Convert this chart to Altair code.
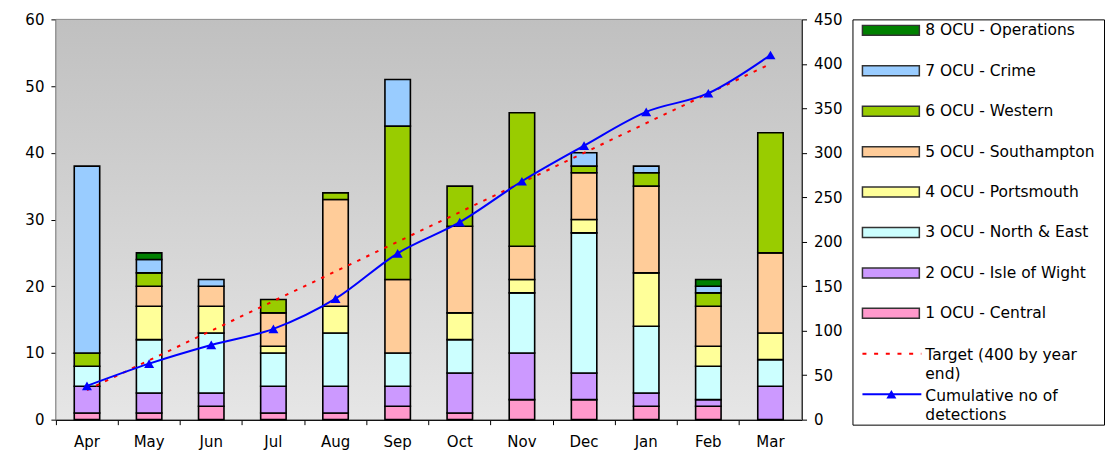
import altair as alt
import pandas as pd

MONTHS = ["Apr", "May", "Jun", "Jul", "Aug", "Sep", "Oct", "Nov", "Dec", "Jan", "Feb", "Mar"]
OCU_NAMES = ["1 OCU - Central", "2 OCU - Isle of Wight", "3 OCU - North & East",
             "4 OCU - Portsmouth", "5 OCU - Southampton", "6 OCU - Western",
             "7 OCU - Crime", "8 OCU - Operations"]
OCU_COLORS = ["#FF99CC", "#CC99FF", "#CCFFFF", "#FFFF99", "#FFCC99", "#99CC00", "#99CCFF", "#008000"]

CENTRAL = [1, 1, 2, 1, 1, 2, 1, 3, 3, 2, 2, 0]
ISLE_OF_WIGHT = [4, 3, 2, 4, 4, 3, 6, 7, 4, 2, 1, 5]
NORTH_EAST = [3, 8, 9, 5, 8, 5, 5, 9, 21, 10, 5, 4]
PORTSMOUTH = [0, 5, 4, 1, 4, 0, 4, 2, 2, 8, 3, 4]
SOUTHAMPTON = [0, 3, 3, 5, 16, 11, 13, 5, 7, 13, 6, 12]
WESTERN = [2, 2, 0, 2, 1, 23, 6, 20, 1, 2, 2, 18]
CRIME = [28, 2, 1, 0, 0, 7, 0, 0, 2, 1, 1, 0]
OPERATIONS = [0, 1, 0, 0, 0, 0, 0, 0, 0, 0, 1, 0]

TARGET = [33.3, 66.7, 100, 133.3, 166.7, 200, 233.3, 266.7, 300, 333.3, 366.7, 400]
CUMULATIVE = [38, 63, 84, 102, 136, 187, 222, 268, 308, 346, 367, 410]

LEFT_TICKS = [0, 10, 20, 30, 40, 50, 60]
RIGHT_TICKS = [0, 50, 100, 150, 200, 250, 300, 350, 400, 450]

TARGET_LABEL = "Target (400 by year\nend)"
CUM_LABEL = "Cumulative no of\ndetections"

FONT = "DejaVu Sans"
W, H = 747, 401

series = [CENTRAL, ISLE_OF_WIGHT, NORTH_EAST, PORTSMOUTH, SOUTHAMPTON, WESTERN, CRIME, OPERATIONS]
rows = []
for k, (name, vals) in enumerate(zip(OCU_NAMES, series)):
    for m, v in zip(MONTHS, vals):
        rows.append({"month": m, "ocu": name, "idx": k, "value": v})
bar_df = pd.DataFrame(rows)
line_df = pd.DataFrame({"month": MONTHS, "target": TARGET, "cumulative": CUMULATIVE})

x_enc = alt.X("month:N", sort=MONTHS,
              scale=alt.Scale(paddingInner=0, paddingOuter=0),
              axis=alt.Axis(title=None, bandPosition=0, labelAngle=0,
                            labelPadding=10, tickSize=5))

bg = alt.Chart(pd.DataFrame({"a": [0]})).mark_rect(
    fill=alt.LinearGradient(gradient="linear",
                            stops=[alt.GradientStop(color="#c0c0c0", offset=0),
                                   alt.GradientStop(color="#e6e6e6", offset=1)],
                            x1=0, x2=0, y1=0, y2=1),
    stroke="#8a8a8a", strokeWidth=1
).encode(x=alt.value(0), x2=alt.value(W), y=alt.value(0), y2=alt.value(H))

bars = alt.Chart(bar_df).transform_filter("datum.value > 0").mark_bar(
    size=25.5, stroke="black", strokeWidth=1.6
).encode(
    x=x_enc,
    y=alt.Y("value:Q", stack="zero", scale=alt.Scale(domain=[0, 60], nice=False),
            axis=alt.Axis(orient="left", values=LEFT_TICKS, title=None, grid=False)),
    color=alt.Color("ocu:N", scale=alt.Scale(domain=OCU_NAMES, range=OCU_COLORS), legend=None),
    order=alt.Order("idx:Q", sort="ascending"),
)

right_axis = alt.Axis(orient="right", values=RIGHT_TICKS, title=None, grid=False)
target = alt.Chart(line_df).mark_line(color="red", strokeDash=[3.5, 6.5], strokeWidth=2).encode(
    x=x_enc,
    y=alt.Y("target:Q", scale=alt.Scale(domain=[0, 450], nice=False), axis=right_axis),
)
cum = alt.Chart(line_df).mark_line(
    color="blue", strokeWidth=2, interpolate="monotone",
    point=alt.OverlayMarkDef(shape="triangle-up", size=100, filled=True, color="blue")
).encode(
    x=x_enc,
    y=alt.Y("cumulative:Q", scale=alt.Scale(domain=[0, 450], nice=False), axis=right_axis),
)

main = alt.layer(bg, bars, alt.layer(target, cum)).resolve_scale(y="independent").properties(
    width=W, height=H)

# legend panel
LEG_LABELS = list(reversed(OCU_NAMES)) + [TARGET_LABEL, CUM_LABEL]
leg_df = pd.DataFrame({"label": LEG_LABELS, "row": list(range(len(LEG_LABELS)))})
ly = alt.Y("row:Q", scale=alt.Scale(domain=[0, 9], range=[11, 375.5], nice=False, zero=False), axis=None)

sw = alt.Chart(leg_df).transform_filter("datum.row < 8").mark_rect(
    stroke="#333333", strokeWidth=1.5, yOffset=-5, y2Offset=5
).encode(
    x=alt.value(10), x2=alt.value(67), y=ly, y2=alt.Y2("row:Q"),
    color=alt.Color("label:N", scale=alt.Scale(domain=OCU_NAMES, range=OCU_COLORS), legend=None),
)
t1 = alt.Chart(leg_df).transform_filter("datum.row < 8").mark_text(
    align="left", baseline="middle", fontSize=15.5, font=FONT, color="black"
).encode(x=alt.value(73), y=ly, text="label:N")
t2 = alt.Chart(leg_df).transform_filter("datum.row >= 8").mark_text(
    align="left", baseline="top", dy=-5.5, fontSize=15.5, font=FONT, color="black",
    lineBreak="\n", lineHeight=19
).encode(x=alt.value(73), y=ly, text="label:N")
r_t = alt.Chart(leg_df).transform_filter("datum.row == 8").mark_rule(
    color="red", strokeDash=[4, 7.7], strokeWidth=2
).encode(x=alt.value(10), x2=alt.value(69), y=ly)
r_c = alt.Chart(leg_df).transform_filter("datum.row == 9").mark_rule(
    color="blue", strokeWidth=2
).encode(x=alt.value(10), x2=alt.value(69), y=ly)
p_c = alt.Chart(leg_df).transform_filter("datum.row == 9").mark_point(
    shape="triangle-up", size=100, filled=True, color="blue", opacity=1
).encode(x=alt.value(39), y=ly)

legend_panel = alt.layer(sw, t1, t2, r_t, r_c, p_c).properties(
    width=252, height=406,
    view=alt.ViewBackground(stroke="black", strokeWidth=1, fill="white"))

chart = alt.hconcat(main, legend_panel, spacing=51, bounds="flush").properties(
    padding={"left": 16, "top": 4, "right": 0, "bottom": 4},
    background="white"
).configure_view(strokeWidth=0).configure_axis(
    domainColor="black", tickColor="black", labelColor="black",
    labelFont=FONT, labelFontSize=15, tickSize=5, labelPadding=7, grid=False,
    domainWidth=1.5, tickWidth=1
)

chart.save("out.html", embed_options={"renderer": "svg", "actions": False})
